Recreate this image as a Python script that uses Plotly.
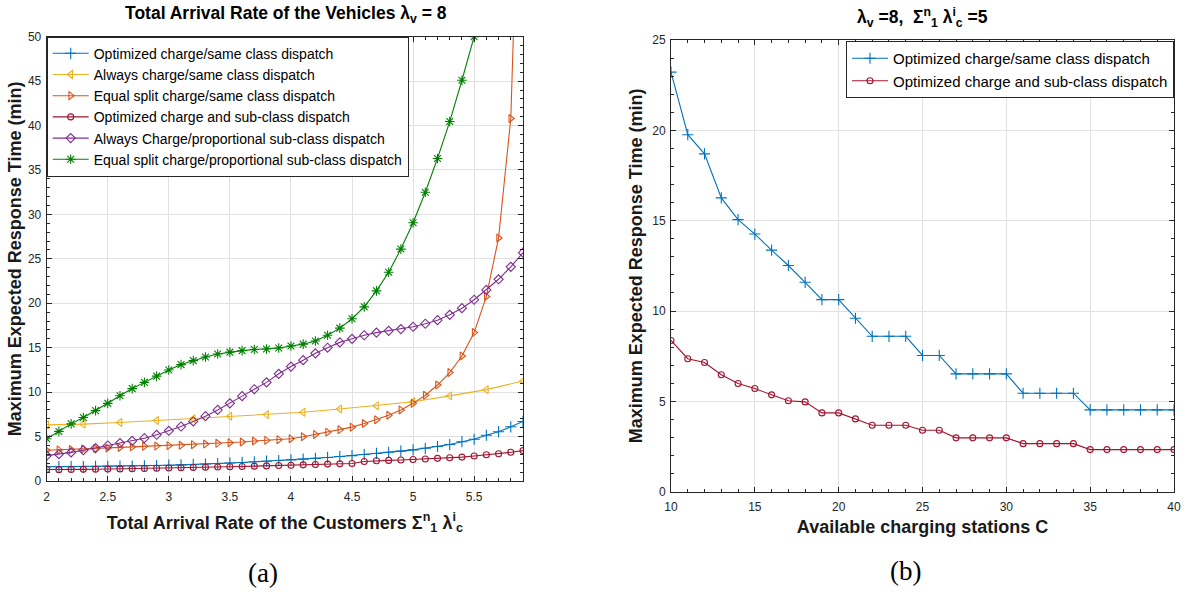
import plotly.graph_objects as go

# ---------------- data: panel (a) ----------------
arrival_rate = [2.0, 2.1, 2.2, 2.3, 2.4, 2.5, 2.6, 2.7, 2.8, 2.9,
                3.0, 3.1, 3.2, 3.3, 3.4, 3.5, 3.6, 3.7, 3.8, 3.9,
                4.0, 4.1, 4.2, 4.3, 4.4, 4.5, 4.6, 4.7, 4.8, 4.9,
                5.0, 5.1, 5.2, 5.3, 5.4, 5.5, 5.6, 5.7, 5.8, 5.9]

opt_same_class = [1.60, 1.61, 1.62, 1.63, 1.64, 1.65, 1.67, 1.69, 1.71, 1.74,
                  1.78, 1.82, 1.86, 1.91, 1.97, 2.03, 2.09, 2.16, 2.23, 2.30,
                  2.38, 2.46, 2.55, 2.65, 2.75, 2.86, 2.98, 3.10, 3.23, 3.36,
                  3.50, 3.68, 3.88, 4.10, 4.42, 4.70, 5.15, 5.55, 6.10, 6.70]

always_rate = [2.0, 2.3, 2.6, 2.9, 3.2, 3.5, 3.8, 4.1, 4.4, 4.7, 5.0, 5.3, 5.6, 5.9]
always_same_class = [6.32, 6.40, 6.58, 6.80, 7.00, 7.29, 7.47, 7.73, 8.10, 8.48,
                     8.92, 9.58, 10.28, 11.25]

equal_same_class = [3.46, 3.50, 3.55, 3.60, 3.65, 3.70, 3.78, 3.84, 3.90, 3.93,
                    3.98, 4.02, 4.09, 4.16, 4.24, 4.31, 4.39, 4.50, 4.57, 4.65,
                    4.76, 4.98, 5.24, 5.50, 5.76, 6.06, 6.47, 6.90, 7.40, 8.00,
                    8.74, 9.65, 10.80, 12.20, 14.07, 16.70, 20.77, 27.35, 40.80, 85.0]

opt_sub_class = [1.30, 1.28, 1.29, 1.31, 1.32, 1.34, 1.36, 1.38, 1.40, 1.43,
                 1.46, 1.49, 1.52, 1.55, 1.58, 1.61, 1.64, 1.67, 1.70, 1.74,
                 1.78, 1.82, 1.86, 1.90, 1.93, 1.97, 2.19, 2.28, 2.32, 2.37,
                 2.42, 2.48, 2.55, 2.62, 2.69, 2.82, 2.95, 3.07, 3.23, 3.42]

always_prop_sub = [2.86, 3.02, 3.22, 3.46, 3.70, 4.00, 4.27, 4.52, 4.82, 5.20,
                   5.65, 6.13, 6.70, 7.30, 8.00, 8.74, 9.55, 10.33, 11.10, 12.06,
                   12.88, 13.60, 14.37, 15.00, 15.60, 16.00, 16.40, 16.70, 16.90, 17.10,
                   17.36, 17.70, 18.10, 18.70, 19.45, 20.40, 21.50, 22.70, 24.10, 25.70]

equal_prop_rate = arrival_rate[:36]
equal_prop_sub = [4.76, 5.58, 6.43, 7.14, 7.92, 8.74, 9.60, 10.40, 11.10, 11.80,
                  12.50, 13.10, 13.55, 13.95, 14.30, 14.50, 14.67, 14.80, 14.86, 14.97,
                  15.20, 15.40, 15.75, 16.40, 17.20, 18.26, 19.60, 21.40, 23.50, 26.10,
                  29.07, 32.50, 36.30, 40.45, 45.10, 50.00]

# ---------------- data: panel (b) ----------------
stations = [10, 11, 12, 13, 14, 15, 16, 17, 18, 19, 20, 21, 22, 23, 24, 25,
            26, 27, 28, 29, 30, 31, 32, 33, 34, 35, 36, 37, 38, 39, 40]
opt_same_C = [23.22, 19.76, 18.70, 16.26, 15.06, 14.26, 13.37, 12.52, 11.59, 10.63,
              10.63, 9.60, 8.60, 8.60, 8.60, 7.54, 7.54, 6.52, 6.52, 6.52,
              6.52, 5.45, 5.45, 5.45, 5.45, 4.53, 4.53, 4.53, 4.53, 4.53, 4.53]
opt_sub_C = [8.37, 7.36, 7.15, 6.47, 5.99, 5.71, 5.36, 5.03, 4.97, 4.36,
             4.36, 4.03, 3.68, 3.68, 3.68, 3.40, 3.40, 2.98, 2.98, 2.98,
             2.98, 2.66, 2.66, 2.66, 2.66, 2.33, 2.33, 2.33, 2.33, 2.33, 2.33]

names_a = ["Optimized charge/same class dispatch",
           "Always charge/same class dispatch",
           "Equal split charge/same class dispatch",
           "Optimized charge and sub-class dispatch",
           "Always Charge/proportional sub-class dispatch",
           "Equal split charge/proportional sub-class dispatch"]
names_b = ["Optimized charge/same class dispatch",
           "Optimized charge and sub-class dispatch"]

# ---------------- styling ----------------
W, H = 1189, 592
BLUE, YELLOW, ORANGE = "#0072BD", "#EDB120", "#D95319"
RED, PURPLE, GREEN = "#A2142F", "#7E2F8E", "#008000"
FONT = "Liberation Sans"
DARK = "#262626"


def fx(p):
    return p / W


def fy(p):
    return 1 - p / H


fig = go.Figure()

series_a = [
    (arrival_rate, opt_same_class, names_a[0], BLUE, "cross-thin-open", 8),
    (always_rate, always_same_class, names_a[1], YELLOW, "triangle-left-open", 7),
    (arrival_rate, equal_same_class, names_a[2], ORANGE, "triangle-right-open", 7),
    (arrival_rate, opt_sub_class, names_a[3], RED, "circle-open", 6),
    (arrival_rate, always_prop_sub, names_a[4], PURPLE, "diamond-open", 7),
    (equal_prop_rate, equal_prop_sub, names_a[5], GREEN, "asterisk-open", 8),
]
for xs, ys, nm, col, sym, sz in series_a:
    fig.add_trace(go.Scatter(
        x=xs, y=ys, name=nm, mode="lines+markers",
        line=dict(color=col, width=1.1),
        marker=dict(symbol=sym, size=sz, color=col, line=dict(color=col, width=1.1)),
        xaxis="x", yaxis="y", legend="legend"))

series_b = [
    (stations, opt_same_C, names_b[0], BLUE, "cross-thin-open", 8),
    (stations, opt_sub_C, names_b[1], RED, "circle-open", 6),
]
for xs, ys, nm, col, sym, sz in series_b:
    fig.add_trace(go.Scatter(
        x=xs, y=ys, name=nm, mode="lines+markers",
        line=dict(color=col, width=1.1),
        marker=dict(symbol=sym, size=sz, color=col, line=dict(color=col, width=1.1)),
        xaxis="x2", yaxis="y2", legend="legend2"))

common = dict(showline=True, linecolor=DARK, linewidth=1, mirror="allticks",
              ticks="inside", ticklen=5, tickcolor=DARK, tickwidth=1,
              showgrid=True, gridcolor="#e1e1e1", gridwidth=1, zeroline=False,
              tickfont=dict(family=FONT, size=12, color=DARK), automargin=False)
title_font = dict(family=FONT, size=18, color="#1a1a1a", weight="bold")


def minor(d):
    return dict(ticks="inside", ticklen=3, tickcolor=DARK, dtick=d, showgrid=False)


ytitle = "Maximum Expected Response Time (min)"

fig.update_layout(
    width=W, height=H,
    margin=dict(l=0, r=0, t=0, b=0),
    paper_bgcolor="white", plot_bgcolor="white",
    showlegend=True,
    xaxis=dict(domain=[fx(46.7), fx(523)], range=[2, 5.9], tick0=2, dtick=0.5,
               minor=minor(0.1), anchor="y", ticklabelstandoff=5,
               title=dict(text="Total Arrival Rate of the Customers Σ<sup>n</sup><sub>1</sub> λ<sup>i</sup><sub>c</sub>",
                          font=title_font, standoff=12),
               **common),
    yaxis=dict(domain=[fy(481), fy(36.7)], range=[0, 50], tick0=0, dtick=5,
               minor=minor(1), anchor="x", ticklabelstandoff=2,
               title=dict(text=ytitle, font=title_font, standoff=1),
               **common),
    xaxis2=dict(domain=[fx(671), fx(1174)], range=[10, 40], tick0=10, dtick=5,
                minor=minor(1), anchor="y2", ticklabelstandoff=4,
                title=dict(text="Available charging stations C", font=title_font, standoff=7),
                **common),
    yaxis2=dict(domain=[fy(491.7), fy(40)], range=[0, 25], tick0=0, dtick=5,
                minor=minor(1), anchor="x2", ticklabelstandoff=2,
                title=dict(text=ytitle, font=title_font, standoff=4),
                **common),
    legend=dict(x=fx(46.7), y=fy(36.7), xanchor="left", yanchor="top",
                bgcolor="white", bordercolor=DARK, borderwidth=1,
                font=dict(family=FONT, size=14, color="#000000"),
                itemwidth=36, tracegroupgap=0),
    legend2=dict(x=fx(1174), y=fy(41), xanchor="right", yanchor="top",
                 bgcolor="white", bordercolor=DARK, borderwidth=1,
                 font=dict(family=FONT, size=15, color="#000000"),
                 itemwidth=36, tracegroupgap=0),
    annotations=[
        dict(text="<b>Total Arrival Rate of the Vehicles λ<sub>v</sub> = 8</b>",
             x=fx(286), y=fy(15), xref="paper", yref="paper",
             xanchor="center", yanchor="middle", showarrow=False,
             font=dict(family=FONT, size=17.5, color="#000000")),
        dict(text="<b>λ<sub>v</sub> =8,  Σ<sup>n</sup><sub>1</sub> λ<sup>i</sup><sub>c</sub> =5</b>",
             x=fx(922), y=fy(17), xref="paper", yref="paper",
             xanchor="center", yanchor="middle", showarrow=False,
             font=dict(family=FONT, size=17.5, color="#000000")),
        dict(text="(a)", x=fx(263), y=fy(573), xref="paper", yref="paper",
             xanchor="center", yanchor="middle", showarrow=False,
             font=dict(family="Liberation Serif", size=27, color="#000000")),
        dict(text="(b)", x=fx(905), y=fy(571), xref="paper", yref="paper",
             xanchor="center", yanchor="middle", showarrow=False,
             font=dict(family="Liberation Serif", size=27, color="#000000")),
    ],
)

fig.write_html("out.html", config={"displayModeBar": False},
               post_script="document.body.style.margin='0px';document.body.style.padding='0px';")
